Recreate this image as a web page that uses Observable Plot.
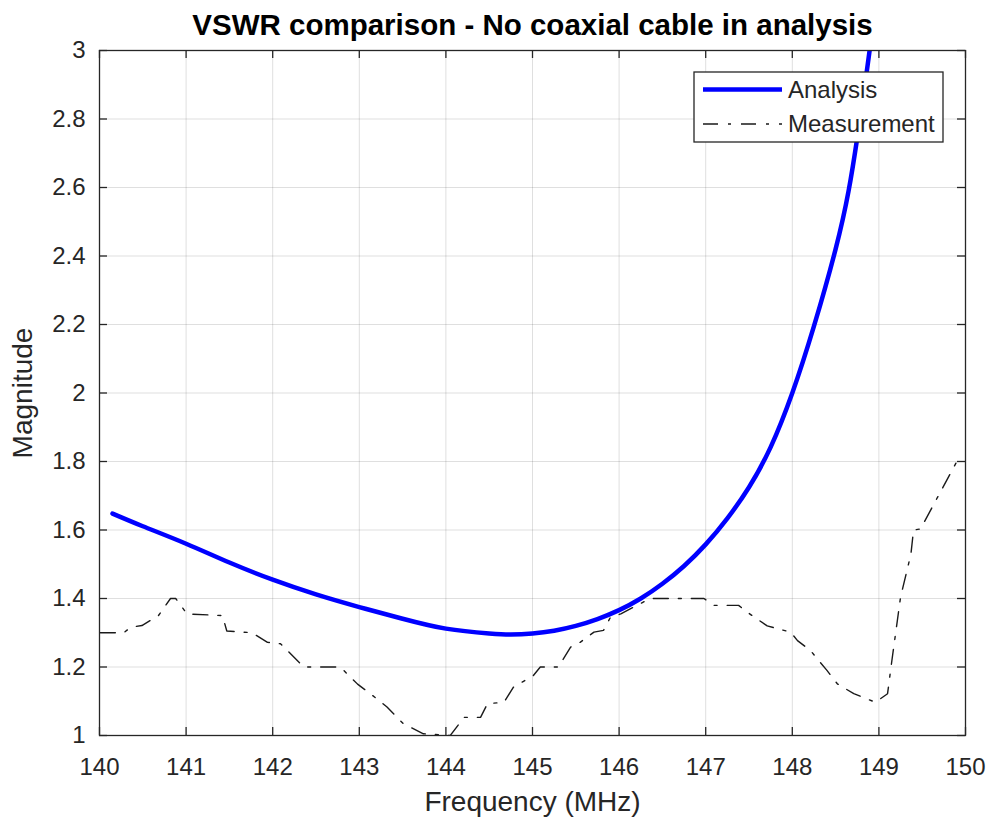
<!DOCTYPE html>
<html><head><meta charset="utf-8">
<script src="https://cdn.jsdelivr.net/npm/d3@7"></script>
<script src="https://cdn.jsdelivr.net/npm/@observablehq/plot@0.6"></script>
<style>
body{margin:0;background:#fff;}
#chart{width:988px;height:819px;}
</style></head><body><div id="chart"></div>
<script>
const titleText = "VSWR comparison - No coaxial cable in analysis";
const xLabel = "Frequency (MHz)";
const yLabel = "Magnitude";
const seriesNames = ["Analysis", "Measurement"];

const analysisFreq = [140.15,140.5,141.0,141.5,142.0,142.5,143.0,143.5,144.0,144.5,144.75,145.0,145.25,145.5,145.75,146.0,146.25,146.5,146.75,147.0,147.25,147.5,147.75,148.0,148.25,148.5,148.65,148.75,148.85,148.93];
const analysisMag  = [1.648,1.611,1.56,1.505,1.455,1.412,1.375,1.341,1.312,1.298,1.295,1.298,1.306,1.32,1.34,1.366,1.40,1.443,1.495,1.558,1.634,1.725,1.842,2.0,2.195,2.42,2.59,2.745,2.92,3.07];

const measFreq = [140.01,140.28,140.36,140.49,140.68,140.82,140.88,141.01,141.42,141.47,141.76,141.94,142.09,142.36,142.78,142.98,143.24,143.32,143.51,143.74,144.05,144.21,144.40,144.48,144.67,144.78,145.01,145.09,145.30,145.44,145.55,145.71,145.82,145.90,146.02,146.17,146.36,146.98,147.09,147.38,147.48,147.71,147.98,148.06,148.21,148.40,148.52,148.71,148.96,149.10,149.15,149.25,149.37,149.40,149.48,149.90,149.99];
const measMag  = [1.30,1.30,1.316,1.321,1.35,1.40,1.40,1.355,1.35,1.305,1.30,1.272,1.268,1.20,1.20,1.15,1.10,1.083,1.034,1.005,1.0,1.053,1.053,1.093,1.097,1.141,1.175,1.20,1.20,1.258,1.272,1.302,1.307,1.345,1.355,1.375,1.40,1.40,1.38,1.38,1.36,1.32,1.302,1.277,1.248,1.19,1.151,1.122,1.097,1.122,1.219,1.404,1.53,1.60,1.603,1.80,1.80];

const xTicks = [140,141,142,143,144,145,146,147,148,149,150];
const yTicks = [1,1.2,1.4,1.6,1.8,2,2.2,2.4,2.6,2.8,3];

const analysis = analysisFreq.map((f,i)=>({f, v: analysisMag[i]}));
const meas = measFreq.map((f,i)=>({f, v: measMag[i]}));

const W = 988, H = 819, mL = 99, mR = 23, mT = 50, mB = 84;
const fW = W - mL - mR, fH = H - mT - mB;
const ink = "#262626";
const font = "'Liberation Sans', Arial, Helvetica, sans-serif";
const dash = "15,10,3,10";

const plot = Plot.plot({
  width: W, height: H,
  marginLeft: mL, marginRight: mR, marginTop: mT, marginBottom: mB,
  style: {fontFamily: font, fontSize: "24px", color: ink, background: "#fff", overflow: "visible"},
  x: {domain: [140, 150], label: null},
  y: {domain: [1, 3], label: null},
  marks: [
    Plot.gridX(xTicks, {stroke: ink, strokeOpacity: 0.15, strokeWidth: 1}),
    Plot.gridY(yTicks, {stroke: ink, strokeOpacity: 0.15, strokeWidth: 1}),
    Plot.line(meas, {x: "f", y: "v", stroke: "#1a1a1a", strokeWidth: 1.4, strokeDasharray: dash, clip: true}),
    Plot.line(analysis, {x: "f", y: "v", stroke: "#0000ff", strokeWidth: 4.5, curve: "natural", clip: true}),
    Plot.ruleX(xTicks, {x: d => d, insetTop: fH - 8, stroke: ink, strokeWidth: 1.3}),
    Plot.ruleX(xTicks, {x: d => d, insetBottom: fH - 8, stroke: ink, strokeWidth: 1.3}),
    Plot.ruleY(yTicks, {y: d => d, insetRight: fW - 8, stroke: ink, strokeWidth: 1.3}),
    Plot.ruleY(yTicks, {y: d => d, insetLeft: fW - 8, stroke: ink, strokeWidth: 1.3}),
    Plot.frame({stroke: ink, strokeWidth: 1.3}),
    Plot.axisX(xTicks, {tickSize: 0, tickPadding: 22, label: null, fontSize: 24, tickFormat: d => String(d)}),
    Plot.axisY(yTicks, {tickSize: 0, tickPadding: 14, label: null, fontSize: 24, tickFormat: d => String(d)}),
    Plot.text([xLabel], {text: d => d, frameAnchor: "bottom", lineAnchor: "middle", textAnchor: "middle", dy: 67, fontSize: 28, fill: ink}),
    Plot.text([yLabel], {text: d => d, frameAnchor: "left", lineAnchor: "middle", textAnchor: "middle", dx: -76, rotate: -90, fontSize: 28, fill: ink}),
    Plot.text([titleText], {text: d => d, frameAnchor: "top", lineAnchor: "middle", textAnchor: "middle", dy: -25, fontSize: 29.5, fontWeight: "bold", fill: "#000"})
  ]
});

// Legend (box anchored to the frame's top-right corner)
const svg = d3.select(plot);
const lx = mL + fW - 22 - 249, ly = mT + 22, lw = 249, lh = 70;
const g = svg.append("g").attr("font-family", font).attr("font-size", 24).attr("fill", ink).attr("text-anchor", "start");
g.append("rect").attr("x", lx).attr("y", ly).attr("width", lw).attr("height", lh)
  .attr("fill", "#fff").attr("stroke", ink).attr("stroke-width", 1.3);
const rows = [
  {name: seriesNames[0], stroke: "#0000ff", w: 4.5, dash: null, y: ly + 17.5},
  {name: seriesNames[1], stroke: "#1a1a1a", w: 1.4, dash: dash, y: ly + 52}
];
rows.forEach(r => {
  g.append("line").attr("x1", lx + 9).attr("x2", lx + 88).attr("y1", r.y).attr("y2", r.y)
    .attr("stroke", r.stroke).attr("stroke-width", r.w).attr("stroke-dasharray", r.dash);
  g.append("text").attr("x", lx + 94).attr("y", r.y).attr("dy", "0.35em").attr("text-anchor", "start").text(r.name);
});

document.getElementById("chart").appendChild(plot);
</script>
</body></html>
